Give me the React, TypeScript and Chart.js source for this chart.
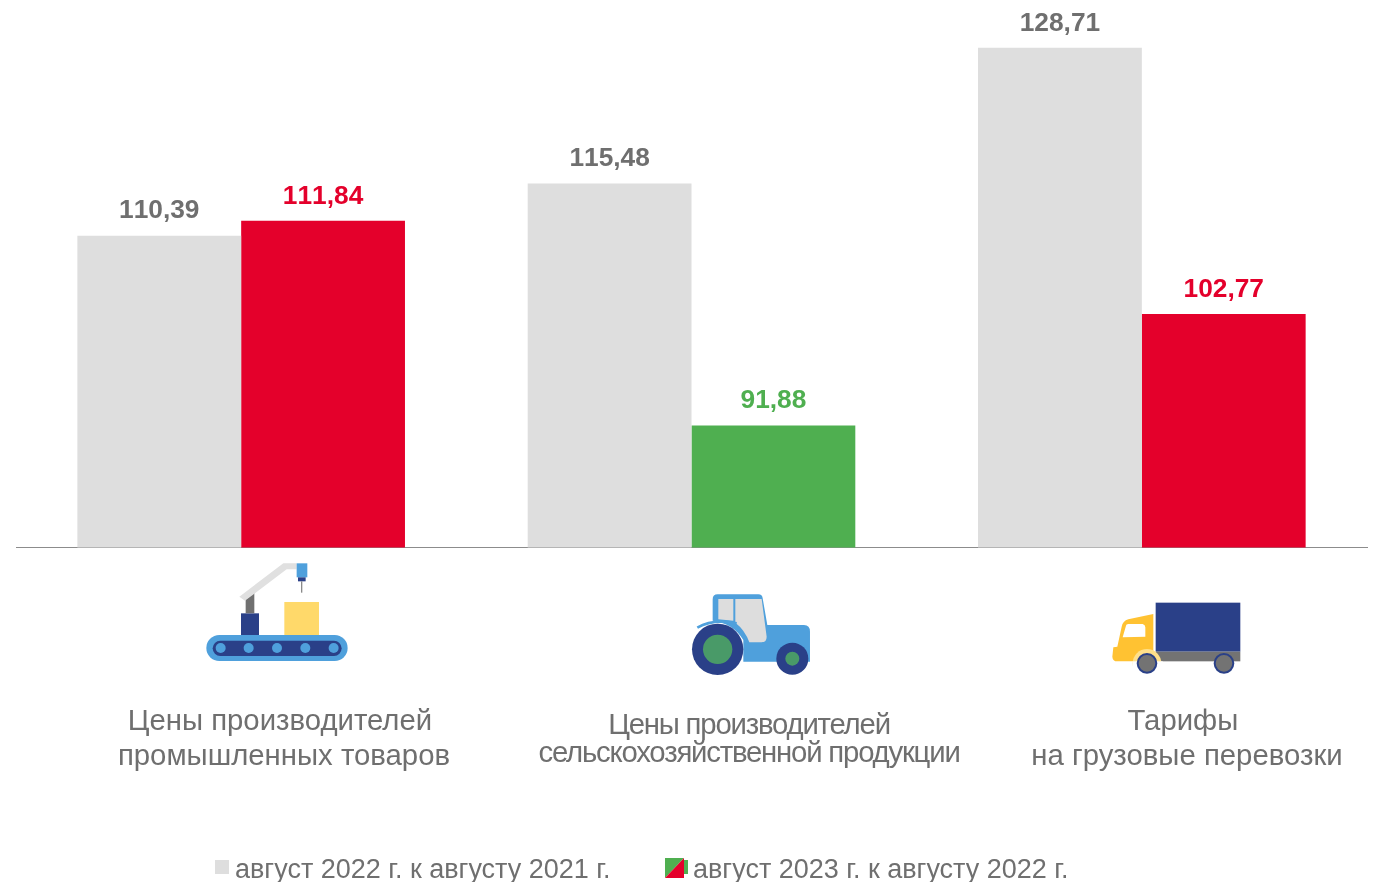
import React, { useEffect, useRef } from "react";
import { Chart, registerables } from "chart.js";

Chart.register(...registerables);

const categories = ["Цены производителей промышленных товаров", "Цены производителей сельскохозяйственной продукции", "Тарифы на грузовые перевозки"];
const values2022 = [110.39, 115.48, 128.71];
const values2023 = [111.84, 91.88, 102.77];
const colors2023 = ["#E4002B", "#4FAF50", "#E4002B"];
const legendLabels = ["август 2022 г. к августу 2021 г.", "август 2023 г. к августу 2022 г."];
const GREY = "#DEDEDE";
const TEXT = "#6F6F6F";

const fmt = (v: number) => v.toFixed(2).replace(".", ",");

const valueLabels = {
  id: "valueLabels",
  afterDatasetsDraw(chart: any) {
    const ctx = chart.ctx;
    ctx.save();
    ctx.font = "bold 26.3px 'Liberation Sans'";
    ctx.fontKerning = "none";
    ctx.textAlign = "center";
    ctx.textBaseline = "alphabetic";
    chart.data.datasets.forEach((ds: any, i: number) => {
      chart.getDatasetMeta(i).data.forEach((bar: any, j: number) => {
        ctx.fillStyle = i === 0 ? TEXT : ds.backgroundColor[j];
        ctx.fillText(fmt(ds.data[j]), bar.x, bar.y - 17.2);
      });
    });
    ctx.restore();
  },
};

const abs: React.CSSProperties = { position: "absolute", whiteSpace: "nowrap", color: TEXT, fontFamily: "'Liberation Sans'" };

export default function App() {
  const ref = useRef<HTMLCanvasElement>(null);
  useEffect(() => {
    const chart = new Chart(ref.current!, {
      type: "bar",
      data: {
        labels: categories,
        datasets: [
          { label: legendLabels[0], data: values2022, backgroundColor: values2022.map(() => GREY), categoryPercentage: 0.7275, barPercentage: 1 },
          { label: legendLabels[1], data: values2023, backgroundColor: colors2023, categoryPercentage: 0.7275, barPercentage: 1 },
        ],
      },
      options: {
        animation: false,
        responsive: false,
        layout: { padding: { left: 16, right: 13, top: 34.5, bottom: 334.5 } },
        plugins: { legend: { display: false }, tooltip: { enabled: false } },
        scales: {
          x: { grid: { display: false, drawTicks: false }, border: { color: "#8C8C8C", width: 1 }, ticks: { display: false } },
          y: { display: false, min: 80, max: 130 },
        },
      },
      plugins: [valueLabels],
    });
    return () => chart.destroy();
  }, []);

  return (
    <div style={{ position: "absolute", left: 0, top: 0, width: 1380, height: 882, overflow: "hidden", background: "#fff" }}>
      <canvas ref={ref} width={1380} height={882} style={{ position: "absolute", left: 0, top: 0 }} />
      <svg width={1380} height={882} style={{ position: "absolute", left: 0, top: 0 }}>
        <defs>
          <filter id="soft"><feGaussianBlur stdDeviation="1.5" /></filter>
        </defs>
        <g transform="translate(190 550) scale(0.3333)" filter="url(#soft)">
          <rect x={49} y={255} width={424} height={78} rx={39} fill="#4FA0DC" />
          <rect x={68} y={272} width={387} height={46} rx={23} fill="#2A4088" />
          {[92, 176, 261, 346, 431].map((x) => <circle key={x} cx={x} cy={294} r={15} fill="#4FA0DC" />)}
          <rect x={283} y={156} width={104} height={99} fill="#FFD96A" />
          <rect x={153} y={190} width={54} height={65} fill="#2A4088" />
          <polygon points="167,148 193,128 193,190 167,190" fill="#6F6F6F" />
          <polygon points="148,140 165,152 290,58 320,58 320,40 280,40" fill="#E0E0E0" />
          <rect x={320} y={40} width={32} height={42} fill="#4FA0DC" />
          <rect x={324} y={82} width={23} height={12} fill="#2A4088" />
          <rect x={333} y={94} width={4} height={34} fill="#8A8A8A" />
        </g>
        <g transform="translate(680 580) scale(0.3333)" filter="url(#soft)">
          <path d="M98 125 L98 58 Q98 43 113 43 L235 43 Q247 43 248 55 L262 135 L372 135 Q390 135 390 155 L390 245 L190 245 L190 180 Q160 130 98 122 Z" fill="#4FA0DC" />
          <path d="M115 57 L160 57 L160 122 L115 118 Z" fill="#DDDDDD" />
          <path d="M166 57 L245 57 L260 170 Q260 187 245 187 L208 187 Q195 150 166 128 Z" fill="#DDDDDD" />
          <path d="M52 143 Q100 115 170 130" stroke="#4FA0DC" strokeWidth={8} fill="none" />
          <circle cx={113} cy={208} r={77} fill="#2A4088" />
          <circle cx={113} cy={208} r={44} fill="#4A9A68" />
          <circle cx={337} cy={236} r={48} fill="#2A4088" />
          <circle cx={337} cy={236} r={21} fill="#4A9A68" />
        </g>
        <g transform="translate(1100 590) scale(0.3333)" filter="url(#soft)">
          <rect x={167} y={38} width={254} height={147} fill="#2A4088" />
          <rect x={167} y={185} width={254} height={29} fill="#737373" />
          <path d="M160 72 L85 88 Q68 93 65 110 L52 170 L40 172 L37 200 Q38 214 52 214 L167 214 L160 190 Z" fill="#FFC233" />
          <path d="M78 107 Q78 103 85 102 L128 102 Q136 104 136 112 L136 140 L68 142 Z" fill="#FFFFFF" />
          <circle cx={141} cy={220} r={43} fill="#FFE08A" />
          <rect x={98} y={214} width={90} height={50} fill="#FFFFFF" />
          <circle cx={141} cy={220} r={28} fill="#737373" stroke="#2A4088" strokeWidth={6} />
          <circle cx={372} cy={220} r={28} fill="#737373" stroke="#2A4088" strokeWidth={6} />
        </g>
        <rect x={215} y={860} width={14} height={14} fill={GREY} />
        <rect x={684} y={860} width={4} height={14} fill="#4FAF50" />
        <polygon points="665,878 665,858 684,858" fill="#4FAF50" />
        <polygon points="665,878 684,858 684,878" fill="#E4002B" />
      </svg>
      <div style={{ ...abs, left: 284, top: 702, transform: "translateX(-50%)", fontSize: 29.33, lineHeight: "35px", textAlign: "center" }}>Цены производителей&nbsp;<br />промышленных товаров</div>
      <div style={{ ...abs, left: 749, top: 710, transform: "translateX(-50%)", fontSize: 29.33, lineHeight: "28px", letterSpacing: -1.2, textAlign: "center" }}>Цены производителей<br />сельскохозяйственной продукции</div>
      <div style={{ ...abs, left: 1187, top: 702, transform: "translateX(-50%)", fontSize: 29.33, lineHeight: "35px", textAlign: "center" }}>Тарифы&nbsp;<br />на грузовые перевозки</div>
      <div style={{ ...abs, left: 235, top: 854, fontSize: 27, lineHeight: "30px" }}>{legendLabels[0]}</div>
      <div style={{ ...abs, left: 693, top: 854, fontSize: 27, lineHeight: "30px" }}>{legendLabels[1]}</div>
    </div>
  );
}
